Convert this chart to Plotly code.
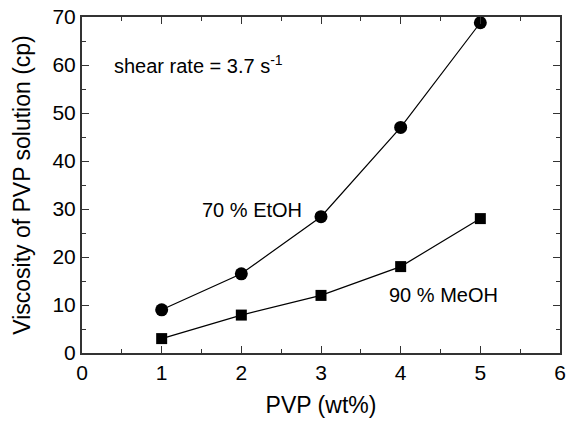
import plotly.graph_objects as go

pvp_wt = [1, 2, 3, 4, 5]
etoh_70 = [9.0, 16.5, 28.4, 47.0, 68.8]
meoh_90 = [3.0, 7.9, 12.0, 18.0, 28.0]

tick_font = dict(family="Liberation Sans, Arial, sans-serif", size=21, color="black")
title_font = dict(family="Liberation Sans, Arial, sans-serif", size=23, color="black")
note_font = dict(family="Liberation Sans, Arial, sans-serif", size=20, color="black")

fig = go.Figure()
fig.add_trace(go.Scatter(
    x=pvp_wt, y=etoh_70, mode='lines+markers', name='70 % EtOH',
    line=dict(color='black', width=1.2),
    marker=dict(symbol='circle', size=13, color='black'),
))
fig.add_trace(go.Scatter(
    x=pvp_wt, y=meoh_90, mode='lines+markers', name='90 % MeOH',
    line=dict(color='black', width=1.2),
    marker=dict(symbol='square', size=11, color='black'),
))

axis_common = dict(
    showgrid=False, zeroline=False, showline=True, linecolor='#333', linewidth=2,
    mirror='ticks', ticks='inside', ticklen=7, tickwidth=1.2, tickcolor='#333',
    tickfont=tick_font, automargin=False, ticklabeloverflow='allow',
)

fig.update_xaxes(
    range=[0, 6], dtick=1, title=dict(text='PVP (wt%)', font=title_font, standoff=14),
    minor=dict(ticks='inside', ticklen=4, dtick=0.5, tickcolor='#333'),
    **axis_common,
)
fig.update_yaxes(
    range=[0, 70], dtick=10, title=dict(text='Viscosity of PVP solution (cp)', font=title_font, standoff=15),
    minor=dict(ticks='inside', ticklen=4, dtick=5, tickcolor='#333'),
    **axis_common,
)

fig.add_annotation(x=0.38, y=60.2, text='shear rate = 3.7 s<sup>-1</sup>', showarrow=False,
                   xanchor='left', yanchor='middle', font=note_font)
fig.add_annotation(x=1.48, y=29.8, text='70 % EtOH', showarrow=False,
                   xanchor='left', yanchor='middle', font=note_font)
fig.add_annotation(x=3.83, y=12.1, text='90 % MeOH', showarrow=False,
                   xanchor='left', yanchor='middle', font=note_font)

fig.update_layout(
    width=570, height=423, showlegend=False,
    plot_bgcolor='white', paper_bgcolor='white',
    margin=dict(l=82, r=10, t=17, b=70),
    font=tick_font,
)

# drop the default body margin so the figure fills the window exactly
fig.write_html("out.html", config={'displayModeBar': False},
               post_script="document.body.style.margin='0';")
